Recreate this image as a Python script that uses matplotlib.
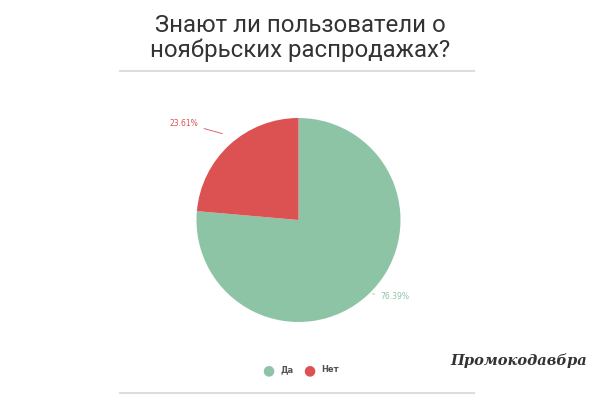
import matplotlib
matplotlib.use("Agg")
import matplotlib.pyplot as plt

labels = ["Да", "Нет"]
values = [76.39, 23.61]
colors = ["#8dc4a6", "#dc5152"]
title = "Знают ли пользователи о\nноябрьских распродажах?"

fig = plt.figure(figsize=(6, 4), dpi=100)
fig.patch.set_facecolor("white")
fig.text(0.5, 0.905, title, ha="center", va="center", fontsize=17.3, color="#333333",
         linespacing=1.05, family="Roboto")
fig.add_artist(plt.Line2D([0.2, 0.79], [0.822, 0.822], color="#dddddd", lw=1.5))
fig.add_artist(plt.Line2D([0.2, 0.79], [0.018, 0.018], color="#dddddd", lw=1.5))

ax = fig.add_axes([0.3275, 0.195, 0.34, 0.51])
wedges, _ = ax.pie(values, colors=colors, startangle=90, counterclock=False)
ax.set_aspect("equal")
ax.set_xlim(-1, 1); ax.set_ylim(-1, 1)
ax.axis("off")

ax.annotate(f"{values[1]:.2f}%", xy=(-0.72, 0.84), xytext=(-0.98, 0.95), fontsize=5.5,
            color=colors[1], ha="right", va="center",
            arrowprops=dict(arrowstyle="-", color=colors[1], lw=0.6))
ax.annotate(f"{values[0]:.2f}%", xy=(0.7, -0.72), xytext=(0.8, -0.75), fontsize=5.5,
            color=colors[0], ha="left", va="center",
            arrowprops=dict(arrowstyle="-", color=colors[0], lw=0.6))

for x, lab, c in [(0.447, labels[0], colors[0]), (0.515, labels[1], colors[1])]:
    fig.text(x, 0.075, "●", color=c, fontsize=10, ha="center", va="center")
    fig.text(x + 0.02, 0.075, lab, color="#555555", fontsize=6, ha="left", va="center", fontweight="bold")

fig.text(0.865, 0.1, "Промокодавбра", fontsize=10.5, style="italic", fontweight="bold",
         color="#333333", ha="center", va="center", family="DejaVu Serif")

fig.savefig("out.png", dpi=100)
